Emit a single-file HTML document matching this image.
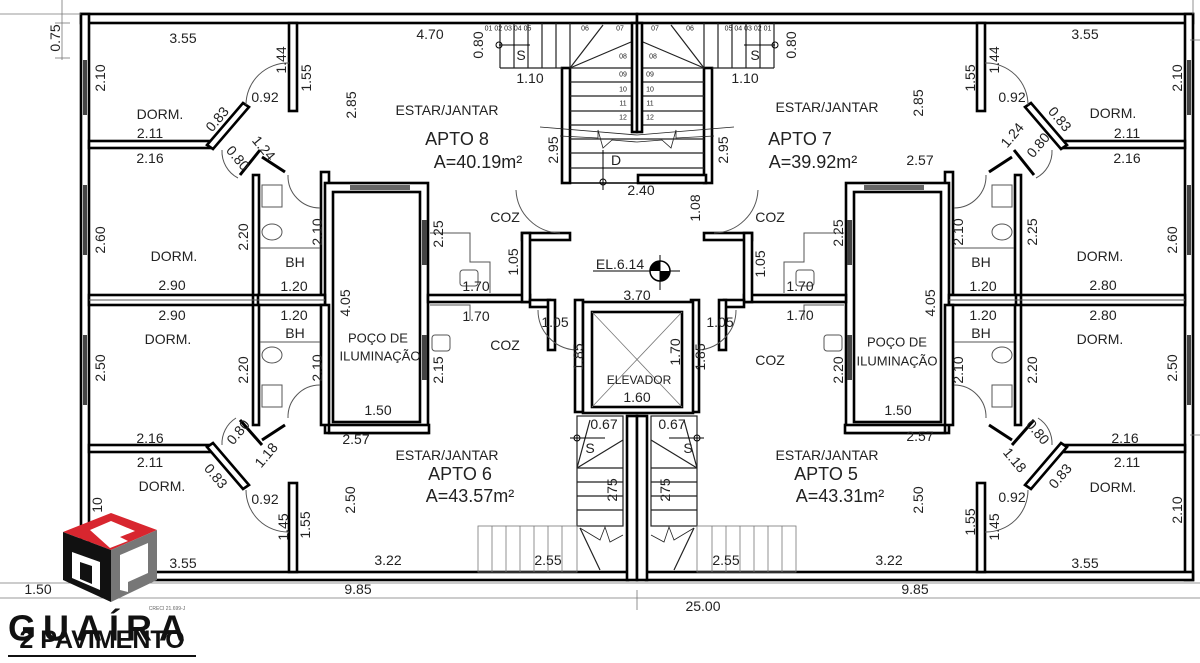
<!DOCTYPE html>
<html><head><meta charset="utf-8"><style>
html,body{margin:0;padding:0;background:#fff;width:1200px;height:663px;overflow:hidden}
svg{display:block}
text{font-family:"Liberation Sans",sans-serif;font-size:14px;fill:#222;text-anchor:middle;dominant-baseline:central}
.w{fill:#fff;stroke:#000;stroke-width:2.6}
.t{stroke:#555;stroke-width:1;fill:none}
.d{stroke:#777;stroke-width:0.8;fill:none}
.st{stroke:#222;stroke-width:1.2;fill:none}
.big{font-size:18px}
</style></head><body>
<svg width="1200" height="663" viewBox="0 0 1200 663" xmlns="http://www.w3.org/2000/svg">
<defs>
<g id="half">
  <rect class="w" x="81" y="14" width="556" height="9"/>
  <rect class="w" x="81" y="14" width="8" height="566"/>
  <rect class="w" x="81" y="572" width="547" height="8"/>
  <rect x="83" y="60" width="4" height="55" fill="#444"/>
  <rect x="83" y="185" width="4" height="70" fill="#444"/>
  <rect x="83" y="335" width="4" height="70" fill="#444"/>
  <rect class="w" x="289" y="23" width="8" height="88"/>
  <rect class="w" x="89" y="141" width="121" height="7"/>
  <polygon class="w" points="243,103 249,107 213,149 207,145"/>
  <path class="t" d="M246,105 A42,42 0 0 1 289,63"/>
  <rect class="w" x="253" y="175" width="6" height="120"/>
  <line x1="240" y1="175" x2="260" y2="150" stroke="#000" stroke-width="3"/>
  <line x1="262" y1="157" x2="285" y2="172" stroke="#000" stroke-width="3"/>
  <path class="t" d="M238,178 A30,30 0 0 1 222,150"/>
  <rect class="w" x="321" y="172" width="8" height="123"/>
  <path class="t" d="M288,175 A32,32 0 0 0 320,208"/>
  <rect class="t" x="262" y="185" width="20" height="22"/>
  <ellipse class="t" cx="272" cy="232" rx="10" ry="8"/>
  <line class="t" x1="260" y1="248" x2="320" y2="248"/>
  <rect class="w" x="325" y="183" width="103" height="250"/>
  <rect class="w" x="333" y="192" width="87" height="230"/>
  <rect x="350" y="185" width="60" height="5" fill="#666"/>
  <rect x="350" y="425" width="60" height="5" fill="#666"/>
  <rect x="422" y="220" width="5" height="45" fill="#444"/>
  <rect x="422" y="335" width="5" height="45" fill="#444"/>
  <rect class="w" x="89" y="295" width="164" height="10"/>
  <rect class="w" x="258" y="295" width="67" height="10"/>
  <line class="t" x1="89" y1="300" x2="325" y2="300"/>
  <rect class="w" x="428" y="295" width="102" height="7"/>
  <rect class="w" x="522" y="233" width="48" height="7"/>
  <rect class="w" x="522" y="233" width="8" height="69"/>
  <path class="t" d="M516,190 A45,45 0 0 0 560,233"/>
  <polyline class="t" points="430,233 470,233 470,262 490,262 490,293"/>
  <rect class="t" x="460" y="270" width="18" height="16" rx="3"/>
  <rect class="t" x="432" y="335" width="18" height="16" rx="3"/>
  <polyline class="t" points="430,305 470,305 470,320"/>
  <rect class="w" x="562" y="68" width="8" height="115"/>
  <rect class="w" x="530" y="300" width="20" height="7"/>
  <rect class="w" x="548" y="300" width="7" height="50"/>
  <path class="t" d="M538,310 A40,40 0 0 0 575,350"/>
  <rect class="w" x="575" y="300" width="8" height="112"/>
  <rect class="w" x="253" y="305" width="6" height="120"/>
  <rect class="w" x="321" y="305" width="8" height="120"/>
  <rect class="w" x="329" y="425" width="100" height="8"/>
  <rect class="t" x="262" y="385" width="20" height="22"/>
  <ellipse class="t" cx="272" cy="355" rx="10" ry="8"/>
  <line class="t" x1="260" y1="342" x2="320" y2="342"/>
  <path class="t" d="M288,418 A32,32 0 0 1 320,385"/>
  <rect class="w" x="89" y="445" width="121" height="7"/>
  <polygon class="w" points="207,447 213,443 249,485 243,489"/>
  <line x1="240" y1="420" x2="262" y2="445" stroke="#000" stroke-width="3"/>
  <line x1="262" y1="440" x2="285" y2="425" stroke="#000" stroke-width="3"/>
  <path class="t" d="M236,418 A30,30 0 0 0 222,445"/>
  <rect class="w" x="289" y="483" width="8" height="89"/>
  <path class="t" d="M246,490 A42,42 0 0 0 289,532"/>
  <g class="st">
    <line x1="500" y1="23" x2="500" y2="68"/>
    <line x1="500" y1="68" x2="562" y2="68"/>
    <line x1="514" y1="23" x2="514" y2="68"/><line x1="528" y1="23" x2="528" y2="68"/>
    <line x1="542" y1="23" x2="542" y2="68"/><line x1="556" y1="23" x2="556" y2="68"/>
    <line x1="570" y1="23" x2="570" y2="68"/>
    <line x1="570" y1="68" x2="603" y2="25"/><line x1="570" y1="68" x2="631" y2="42"/>
    <line x1="570" y1="68" x2="631" y2="68"/>
    <line x1="570" y1="82" x2="631" y2="82"/><line x1="570" y1="96" x2="631" y2="96"/>
    <line x1="570" y1="111" x2="631" y2="111"/><line x1="570" y1="125" x2="631" y2="125"/>
    <line x1="570" y1="139" x2="637" y2="139"/><line x1="570" y1="153" x2="637" y2="153"/>
    <line x1="570" y1="168" x2="637" y2="168"/>
    <line x1="540" y1="127" x2="637" y2="135" stroke-width="0.8"/>
    <polyline points="560,136 598,138 598,130 603,148 612,140 637,142" stroke-width="0.8"/>
  </g>
  <circle cx="499" cy="45" r="3" fill="none" stroke="#000"/>
  <line x1="499" y1="45" x2="530" y2="45" stroke="#000"/>
  <rect class="w" x="632" y="23" width="5" height="109"/>
  <rect class="st" x="577" y="416" width="46" height="110"/>
  <g class="st">
    <line x1="577" y1="468" x2="623" y2="440"/><line x1="577" y1="468" x2="623" y2="468"/>
    <line x1="577" y1="482" x2="623" y2="482"/><line x1="577" y1="496" x2="623" y2="496"/>
    <line x1="577" y1="510" x2="623" y2="510"/>
    <line x1="590" y1="420" x2="577" y2="468"/>
    <line x1="580" y1="528" x2="600" y2="570"/>
    <polyline points="580,528 600,540 605,527 610,542 623,535" stroke-width="0.8"/>
  </g>
  <g class="d">
    <rect x="478" y="526" width="99" height="46"/>
    <line x1="492" y1="526" x2="492" y2="572"/><line x1="506" y1="526" x2="506" y2="572"/>
    <line x1="520" y1="526" x2="520" y2="572"/><line x1="534" y1="526" x2="534" y2="572"/>
    <line x1="548" y1="526" x2="548" y2="572"/><line x1="562" y1="526" x2="562" y2="572"/>
  </g>
  <circle cx="577" cy="438" r="3" fill="none" stroke="#000"/>
  <line x1="570" y1="438" x2="605" y2="438" stroke="#000"/>
  <rect class="w" x="627" y="416" width="10" height="164"/>
</g>
</defs>
<use href="#half"/>
<use href="#half" transform="translate(1274,0) scale(-1,1)"/>

<rect class="w" x="638" y="175" width="68" height="8"/>
<line x1="570" y1="183" x2="706" y2="183" stroke="#000" stroke-width="1.5"/>
<line x1="603" y1="150" x2="603" y2="190" stroke="#000"/>
<circle cx="603" cy="182" r="3" fill="none" stroke="#000"/>
<rect class="w" x="583" y="302" width="110" height="111"/>
<rect class="w" x="592" y="312" width="90" height="95"/>
<line class="d" x1="592" y1="312" x2="682" y2="407"/><line class="d" x1="682" y1="312" x2="592" y2="407"/>
<line x1="593" y1="271" x2="680" y2="271" stroke="#000"/>
<circle cx="660" cy="271" r="10" fill="#fff" stroke="#000" stroke-width="1.5"/>
<path d="M660,261 A10,10 0 0 0 650,271 L660,271Z M660,281 A10,10 0 0 0 670,271 L660,271Z" fill="#000"/>
<line x1="660" y1="255" x2="660" y2="290" stroke="#000"/>

<line class="d" x1="0" y1="583" x2="1200" y2="583"/>
<line class="d" x1="0" y1="598" x2="1200" y2="598"/>
<line class="d" x1="0" y1="14" x2="81" y2="14"/>
<line class="d" x1="62" y1="0" x2="62" y2="60"/>
<line class="d" x1="55" y1="23" x2="70" y2="23"/>
<line class="d" x1="55" y1="58" x2="70" y2="58"/>
<line class="d" x1="637" y1="590" x2="637" y2="610"/>
<line class="d" x1="1193" y1="0" x2="1193" y2="14"/>
<line class="d" x1="1190" y1="40" x2="1200" y2="40"/>
<line class="d" x1="1190" y1="435" x2="1200" y2="435"/>

<text x="183" y="38">3.55</text><text x="430" y="34">4.70</text>
<text transform="translate(478,45) rotate(-90)">0.80</text>
<text x="530" y="78">1.10</text>
<text transform="translate(100,78) rotate(-90)">2.10</text>
<text transform="translate(281,60) rotate(-90)">1.44</text>
<text transform="translate(306,78) rotate(-90)">1.55</text>
<text x="265" y="97">0.92</text>
<text x="160" y="114">DORM.</text>
<text transform="translate(217,119) rotate(-50)">0.83</text>
<text x="150" y="133">2.11</text><text x="150" y="158">2.16</text>
<text transform="translate(264,148) rotate(50)">1.24</text>
<text transform="translate(238,158) rotate(50)">0.80</text>
<text transform="translate(351,105) rotate(-90)">2.85</text>
<text x="447" y="110">ESTAR/JANTAR</text>
<text x="457" y="139" class="big">APTO 8</text>
<text x="478" y="162" class="big">A=40.19m²</text>
<text transform="translate(553,150) rotate(-90)">2.95</text>
<text x="505" y="217">COZ</text>
<text transform="translate(438,234) rotate(-90)">2.25</text>
<text transform="translate(100,240) rotate(-90)">2.60</text>
<text transform="translate(243,237) rotate(-90)">2.20</text>
<text transform="translate(317,232) rotate(-90)">2.10</text>
<text x="174" y="256">DORM.</text><text x="295" y="262">BH</text>
<text x="476" y="286">1.70</text>
<text transform="translate(513,262) rotate(-90)">1.05</text>
<text x="172" y="285">2.90</text><text x="294" y="286">1.20</text>
<text transform="translate(345,303) rotate(-90)">4.05</text>
<text x="172" y="315">2.90</text><text x="294" y="315">1.20</text>
<text x="295" y="333">BH</text><text x="476" y="316">1.70</text>
<text x="555" y="322">1.05</text>
<text x="168" y="339">DORM.</text>
<text x="378" y="338" style="font-size:13px">POÇO DE</text>
<text x="380" y="356" style="font-size:13px">ILUMINAÇÃO</text>
<text x="505" y="345">COZ</text>
<text transform="translate(100,368) rotate(-90)">2.50</text>
<text transform="translate(243,370) rotate(-90)">2.20</text>
<text transform="translate(317,368) rotate(-90)">2.10</text>
<text transform="translate(438,370) rotate(-90)">2.15</text>
<text transform="translate(578,357) rotate(-90)">1.85</text>
<text x="378" y="410">1.50</text>
<text x="150" y="438">2.16</text>
<text transform="translate(238,432) rotate(-50)">0.80</text>
<text transform="translate(266,455) rotate(-50)">1.18</text>
<text x="356" y="439">2.57</text>
<text x="447" y="455">ESTAR/JANTAR</text>
<text x="460" y="474" class="big">APTO  6</text>
<text x="470" y="496" class="big">A=43.57m²</text>
<text x="150" y="462">2.11</text>
<text transform="translate(216,476) rotate(50)">0.83</text>
<text x="162" y="486">DORM.</text>
<text x="265" y="499">0.92</text>
<text transform="translate(350,500) rotate(-90)">2.50</text>
<text transform="translate(283,527) rotate(-90)">1.45</text>
<text transform="translate(305,525) rotate(-90)">1.55</text>
<text transform="translate(97,505) rotate(-90)">10</text>
<text x="183" y="563">3.55</text><text x="388" y="560">3.22</text>
<text x="548" y="560">2.55</text>
<text x="38" y="589">1.50</text><text x="358" y="589">9.85</text>

<text x="641" y="190">2.40</text>
<text x="616" y="160">D</text>
<text transform="translate(695,208) rotate(-90)">1.08</text>
<text x="620" y="264">EL.6.14</text>
<text x="637" y="295">3.70</text>
<text x="720" y="322">1.05</text>
<text x="639" y="380" style="font-size:12px">ELEVADOR</text>
<text x="637" y="397">1.60</text>
<text transform="translate(675,352) rotate(-90)">1.70</text>
<text transform="translate(700,357) rotate(-90)">1.85</text>
<text x="604" y="424">0.67</text><text x="672" y="424">0.67</text>
<text transform="translate(612,490) rotate(-90)">275</text>
<text transform="translate(665,490) rotate(-90)">275</text>
<text x="703" y="606">25.00</text>
<text x="508" y="29" style="font-size:7px">01 02 03 04 05</text><text x="585" y="29" style="font-size:7px">06</text>
<text x="620" y="29" style="font-size:7px">07</text><text x="655" y="29" style="font-size:7px">07</text>
<text x="690" y="29" style="font-size:7px">06</text><text x="748" y="29" style="font-size:7px">05 04 03 02 01</text>
<text x="623" y="57" style="font-size:7px">08</text><text x="653" y="57" style="font-size:7px">08</text>
<text x="623" y="75" style="font-size:7px">09</text><text x="650" y="75" style="font-size:7px">09</text>
<text x="623" y="90" style="font-size:7px">10</text><text x="650" y="90" style="font-size:7px">10</text>
<text x="623" y="104" style="font-size:7px">11</text><text x="650" y="104" style="font-size:7px">11</text>
<text x="623" y="118" style="font-size:7px">12</text><text x="650" y="118" style="font-size:7px">12</text>
<text x="521" y="55">S</text><text x="755" y="55">S</text>
<text x="590" y="448">S</text><text x="688" y="448">S</text>

<text x="1085" y="34">3.55</text>
<text transform="translate(791,45) rotate(-90)">0.80</text>
<text x="745" y="78">1.10</text>
<text transform="translate(1177,78) rotate(-90)">2.10</text>
<text transform="translate(994,60) rotate(-90)">1.44</text>
<text transform="translate(970,78) rotate(-90)">1.55</text>
<text x="1012" y="97">0.92</text>
<text x="1113" y="113">DORM.</text>
<text transform="translate(1060,119) rotate(50)">0.83</text>
<text x="1127" y="133">2.11</text><text x="1127" y="158">2.16</text>
<text transform="translate(1012,135) rotate(-50)">1.24</text>
<text transform="translate(1038,145) rotate(-50)">0.80</text>
<text transform="translate(918,103) rotate(-90)">2.85</text>
<text x="827" y="107">ESTAR/JANTAR</text>
<text x="800" y="139" class="big">APTO 7</text>
<text x="813" y="162" class="big">A=39.92m²</text>
<text transform="translate(723,150) rotate(-90)">2.95</text>
<text x="920" y="160">2.57</text>
<text x="770" y="217">COZ</text>
<text transform="translate(838,233) rotate(-90)">2.25</text>
<text transform="translate(958,232) rotate(-90)">2.10</text>
<text transform="translate(1032,232) rotate(-90)">2.25</text>
<text transform="translate(1172,240) rotate(-90)">2.60</text>
<text x="981" y="262">BH</text><text x="1100" y="256">DORM.</text>
<text transform="translate(760,264) rotate(-90)">1.05</text>
<text x="800" y="286">1.70</text><text x="983" y="286">1.20</text><text x="1103" y="285">2.80</text>
<text transform="translate(930,303) rotate(-90)">4.05</text>
<text x="800" y="315">1.70</text><text x="983" y="315">1.20</text><text x="1103" y="315">2.80</text>
<text x="981" y="333">BH</text><text x="1100" y="339">DORM.</text>
<text x="897" y="342" style="font-size:13px">POÇO DE</text>
<text x="897" y="361" style="font-size:13px">ILUMINAÇÃO</text>
<text x="770" y="360">COZ</text>
<text transform="translate(838,370) rotate(-90)">2.20</text>
<text transform="translate(958,370) rotate(-90)">2.10</text>
<text transform="translate(1032,370) rotate(-90)">2.20</text>
<text transform="translate(1172,368) rotate(-90)">2.50</text>
<text x="898" y="410">1.50</text><text x="920" y="436">2.57</text>
<text x="1125" y="438">2.16</text>
<text transform="translate(1038,432) rotate(50)">0.80</text>
<text transform="translate(1015,460) rotate(50)">1.18</text>
<text x="1127" y="462">2.11</text>
<text x="827" y="455">ESTAR/JANTAR</text>
<text x="826" y="474" class="big">APTO 5</text>
<text x="840" y="496" class="big">A=43.31m²</text>
<text transform="translate(1060,476) rotate(-50)">0.83</text>
<text x="1113" y="487">DORM.</text>
<text x="1012" y="497">0.92</text>
<text transform="translate(918,500) rotate(-90)">2.50</text>
<text transform="translate(970,522) rotate(-90)">1.55</text>
<text transform="translate(994,527) rotate(-90)">1.45</text>
<text transform="translate(1177,510) rotate(-90)">2.10</text>
<text x="726" y="560">2.55</text><text x="889" y="560">3.22</text><text x="1085" y="563">3.55</text>
<text x="915" y="589">9.85</text>
<text transform="translate(55,38) rotate(-90)">0.75</text>

<polygon points="63,532 111,513 157,530 111,550" fill="#d8262f"/>
<polygon points="90,530 111,521 135,531 120,537 128,541 110,548" fill="#fff"/>
<polygon points="63,532 111,550 111,602 63,580" fill="#111"/>
<polygon points="72,552 100,562 100,590 72,578" fill="#fff"/>
<polygon points="80,562 92,566 92,584 80,579" fill="#111"/>
<polygon points="111,550 157,530 157,580 111,602" fill="#777"/>
<polygon points="120,555 148,543 148,573 128,582 128,592 120,590" fill="#fff"/>
<text x="167" y="609" style="font-size:5px;fill:#666">CRECI 21.699-J</text>
<text x="100" y="628" style="font-size:36px;font-weight:bold;fill:#111;letter-spacing:7px">GUAÍRA</text>
<text x="102" y="640" style="font-size:25px;font-weight:bold;fill:#111">2 PAVIMENTO</text>
<line x1="8" y1="656" x2="196" y2="656" stroke="#111" stroke-width="2"/>
</svg>
</body></html>
